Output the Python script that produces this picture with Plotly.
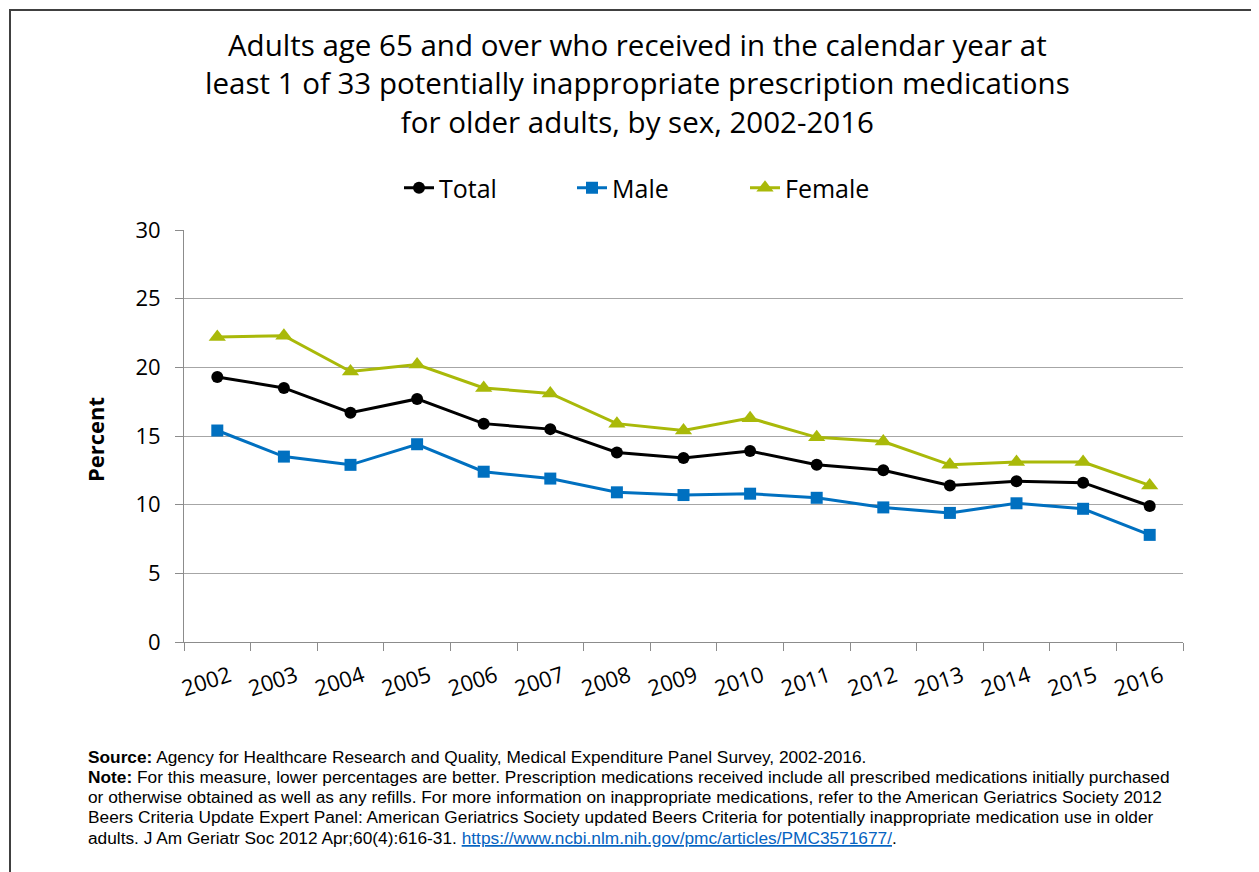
import plotly.graph_objects as go

years = [str(y) for y in range(2002, 2017)]
total = [19.3, 18.5, 16.7, 17.7, 15.9, 15.5, 13.8, 13.4, 13.9, 12.9, 12.5, 11.4, 11.7, 11.6, 9.9]
male = [15.4, 13.5, 12.9, 14.4, 12.4, 11.9, 10.9, 10.7, 10.8, 10.5, 9.8, 9.4, 10.1, 9.7, 7.8]
female = [22.2, 22.3, 19.7, 20.2, 18.5, 18.1, 15.9, 15.4, 16.3, 14.9, 14.6, 12.9, 13.1, 13.1, 11.4]

title_lines = [
    "Adults age 65 and over who received in the calendar year at",
    "least 1 of 33 potentially inappropriate prescription medications",
    "for older adults, by sex, 2002-2016",
]

note_lines = [
    "<b>Source:</b> Agency for Healthcare Research and Quality, Medical Expenditure Panel Survey, 2002-2016.",
    "<b>Note:</b> For this measure, lower percentages are better. Prescription medications received include all prescribed medications initially purchased",
    "or otherwise obtained as well as any refills. For more information on inappropriate medications, refer to the American Geriatrics Society 2012",
    "Beers Criteria Update Expert Panel: American Geriatrics Society updated Beers Criteria for potentially inappropriate medication use in older",
    "adults. J Am Geriatr Soc 2012 Apr;60(4):616-31. "
    "<span style='color:#0563C1'><u>https://www.ncbi.nlm.nih.gov/pmc/articles/PMC3571677/</u></span>.",
]
note_y = [757, 777, 797, 817, 838]

FONT = "Open Sans"
NOTE_FONT = "Liberation Sans"

fig = go.Figure()
fig.add_trace(go.Scatter(x=years, y=total, name="Total", mode="lines+markers",
                         line=dict(color="#000000", width=3),
                         marker=dict(symbol="circle", size=12, color="#000000")))
fig.add_trace(go.Scatter(x=years, y=male, name="Male", mode="lines+markers",
                         line=dict(color="#0070C0", width=3),
                         marker=dict(symbol="square", size=12, color="#0070C0")))
fig.add_trace(go.Scatter(x=years, y=female, name="Female", mode="lines+markers",
                         line=dict(color="#A9B909", width=3),
                         marker=dict(symbol="triangle-up", size=15, color="#A9B909")))

OFF = 8  # page body margin
W, H = 1259 - OFF, 872 - OFF
X0, X1, Y0, Y1 = 184, 1183, 230, 642
L, R, T, B = X0 - OFF, W - (X1 - OFF), Y0 - OFF, H - (Y1 - OFF)
pw, ph = X1 - X0, Y1 - Y0

def px(x):
    return (x - X0) / pw

def py(y):
    return (Y1 - y) / ph

fig.update_layout(
    width=W, height=H,
    margin=dict(l=L, r=R, t=T, b=B, autoexpand=False),
    paper_bgcolor="white", plot_bgcolor="white",
    font=dict(family=FONT, color="#000000"),
    showlegend=True,
    legend=dict(orientation="h", x=px(399), y=py(188), xanchor="left", yanchor="middle",
                font=dict(size=25, family=FONT), entrywidth=128, entrywidthmode="pixels",
                itemwidth=30, bgcolor="rgba(0,0,0,0)", tracegroupgap=0),
    xaxis=dict(type="category", range=[-0.5, 14.5], tickson="boundaries",
               ticks="outside", ticklen=8, tickcolor="#8c8c8c", tickwidth=1,
               showline=True, linecolor="#8c8c8c", linewidth=1,
               showgrid=False, tickangle=-18, ticklabelstandoff=12, ticklabelshift=12,
               tickfont=dict(size=22, family=FONT)),
    yaxis=dict(range=[0, 30], dtick=5, ticks="outside", ticklen=8, tickcolor="#8c8c8c",
               showline=True, linecolor="#8c8c8c", linewidth=1,
               showgrid=True, gridcolor="#a6a6a6", gridwidth=1, zeroline=False,
               tickfont=dict(size=22, family=FONT), ticklabelstandoff=10),
)

fig.add_annotation(xref="paper", yref="paper", x=px(637), y=py(83),
                   text="<br>".join(title_lines),
                   showarrow=False, align="center", xanchor="center", yanchor="middle",
                   font=dict(size=29.5, family=FONT, color="#000000"))

fig.add_annotation(xref="paper", yref="paper", x=px(95), y=py(440), text="<b>Percent</b>",
                   textangle=-90, showarrow=False, xanchor="center", yanchor="middle",
                   font=dict(size=22, family=FONT))

for line, yy in zip(note_lines, note_y):
    fig.add_annotation(xref="paper", yref="paper", x=px(86), y=py(yy), text=line,
                       showarrow=False, align="left", xanchor="left", yanchor="middle",
                       font=dict(size=17.3, family=NOTE_FONT, color="#000000"))

fig.add_shape(type="rect", xref="paper", yref="paper",
              x0=px(10), x1=px(1270), y0=py(10), y1=py(890),
              line=dict(color="#404040", width=2), fillcolor="rgba(0,0,0,0)", layer="below")

fig.write_html("out.html")
